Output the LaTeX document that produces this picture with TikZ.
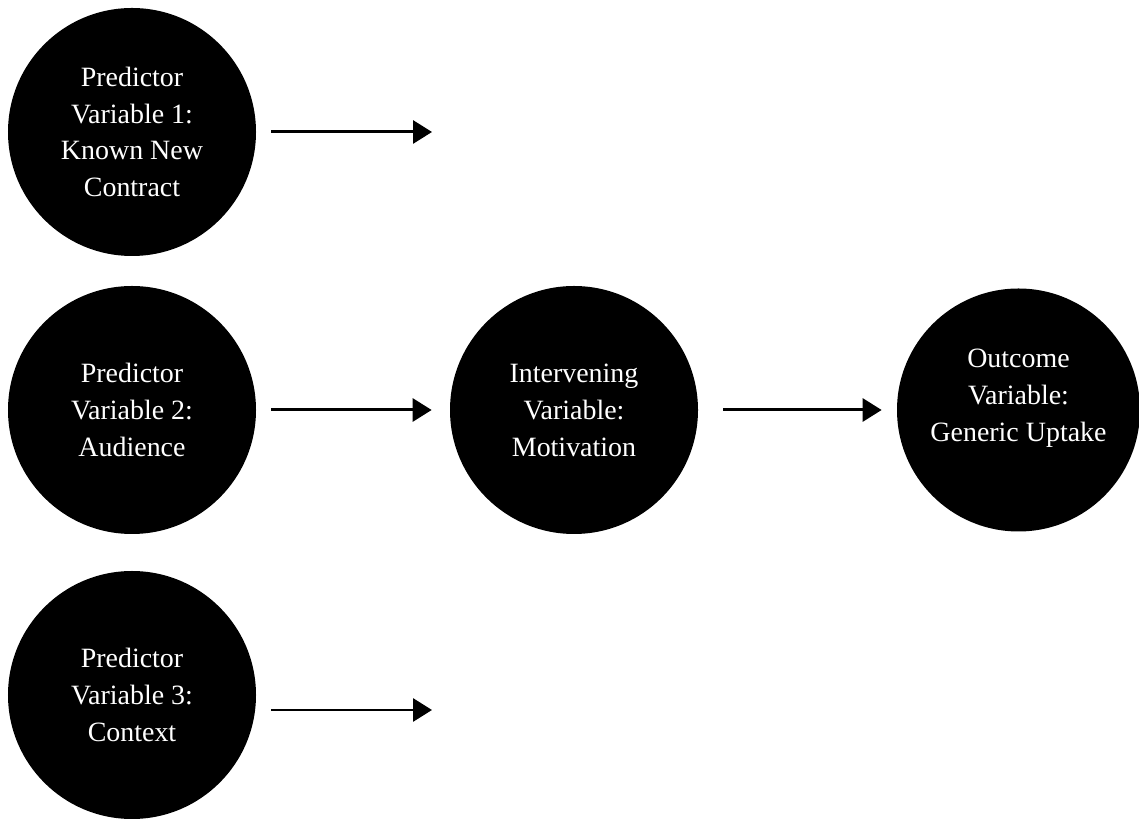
\documentclass[tikz,border=0pt]{standalone}
\usepackage{fontspec}
\setmainfont{Liberation Serif}
\usetikzlibrary{arrows.meta, positioning, calc}

\begin{document}
\begin{tikzpicture}[scale=1.0, line join=round,
    var/.style={circle, fill=black, minimum size=4.96cm, inner sep=0pt,
      text=white, align=center, font=\fontsize{15.9}{21}\selectfont},
    vartext/.style={text=white, align=center, font=\fontsize{15.9}{21}\selectfont},
    link/.style={line width=1.7pt, -{Triangle[length=0.38cm, width=0.46cm]}}]
      \useasboundingbox (0,0) rectangle (22.78,16.4);
      % predictors
      \node[var] (p1) at (2.64,13.76) {Predictor\\Variable 1:\\Known New\\Contract};
      \node[var] (p2) at (2.64,8.2) {Predictor\\Variable 2:\\Audience};
      \node[var] (p3) at (2.64,2.5) {Predictor\\Variable 3:\\Context};
      % intervening and outcome
      \node[var] (inter) at (11.48,8.2) {Intervening\\Variable:\\Motivation};
      \node[var, minimum size=4.86cm,
        label={[vartext, yshift=0.24cm]center:{Outcome\\Variable:\\Generic Uptake}}]
        (out) at (20.37,8.2) {};
      \coordinate (e1) at (8.64,13.76);
      \coordinate (e3) at (8.64,2.2);
      \draw[link, shorten <=0.3cm] (p1) -- (e1);
      \draw[link, shorten <=0.3cm] (p3.east |- e3) -- (e3);
      \draw[link, shorten <=0.3cm, shorten >=0.36cm] (p2) -- (inter);
      \draw[link, shorten <=0.5cm, shorten >=0.3cm] (inter) -- (out);
\end{tikzpicture}
\end{document}
